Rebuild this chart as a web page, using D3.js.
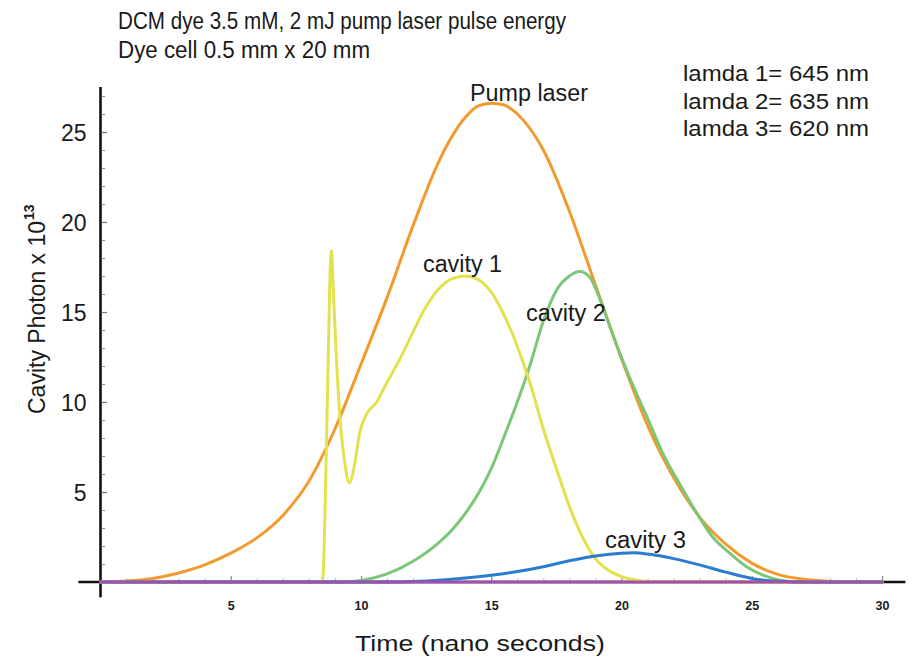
<!DOCTYPE html>
<html>
<head>
<meta charset="utf-8">
<script src="https://cdn.jsdelivr.net/npm/d3@7/dist/d3.min.js"></script>
<style>
  html, body { margin: 0; padding: 0; background: #fff; }
  svg { display: block; }
  text { font-family: "Liberation Sans", Arial, Helvetica, sans-serif; fill: #1a1a1a; }
</style>
</head>
<body>
<svg id="chart" width="913" height="657"></svg>
<script>
// ---- data (time in ns, photons in units of 10^13) ----
const pumpTime   = [0, 1, 2, 3, 4, 5, 6, 7, 8, 9, 10, 11, 12, 13, 14, 14.5, 15, 15.5, 16, 17, 18, 19, 20, 21, 22, 23, 24, 25, 26, 27, 28, 29, 30];
const pumpValues = [0, 0.05, 0.2, 0.5, 0.95, 1.6, 2.45, 3.7, 5.6, 8.5, 12.1, 15.8, 19.8, 23.4, 25.8, 26.45, 26.6, 26.5, 26.0, 24.0, 20.6, 16.5, 12.4, 8.7, 5.8, 3.6, 2.1, 1.05, 0.42, 0.15, 0.04, 0, 0];

const cavity1Time   = [0, 8.5, 8.55, 8.65, 8.75, 8.82, 8.87, 8.93, 9.05, 9.2, 9.38, 9.55, 9.75, 9.95, 10.2, 10.6, 11, 11.5, 12, 12.5, 13, 13.5, 14, 14.5, 15, 15.5, 16, 16.5, 17, 17.5, 18, 18.5, 19, 19.5, 20, 20.5, 21, 22, 30];
const cavity1Values = [0, 0, 0.5, 6, 13, 17.5, 18.4, 16.4, 12.6, 9.0, 6.6, 5.5, 6.5, 8.3, 9.3, 10.0, 11.1, 12.4, 13.9, 15.3, 16.3, 16.85, 17.0, 16.8, 16.1, 14.8, 13.1, 11.0, 8.5, 6.3, 4.2, 2.5, 1.3, 0.65, 0.3, 0.12, 0.02, 0, 0];

const cavity2Time   = [0, 9.3, 10, 11, 12, 13, 13.5, 14, 14.5, 15, 15.5, 16, 16.5, 17, 17.5, 18, 18.4, 18.8, 19.2, 19.7, 20.3, 21, 21.6, 22.25, 22.9, 23.5, 24.2, 24.8, 25.4, 26.1, 26.8, 30];
const cavity2Values = [0, 0, 0.08, 0.45, 1.15, 2.2, 2.9, 3.8, 4.9, 6.3, 8.1, 10.0, 12.1, 14.5, 16.2, 17.0, 17.25, 16.9, 15.6, 13.6, 11.4, 9.1, 7.1, 5.4, 3.8, 2.5, 1.55, 0.85, 0.4, 0.1, 0, 0];

const cavity3Time   = [0, 11, 12, 13, 14, 15, 16, 17, 18, 19, 20, 20.5, 21, 22, 23, 24, 25, 26, 27, 30];
const cavity3Values = [0, 0, 0.03, 0.1, 0.22, 0.38, 0.58, 0.85, 1.18, 1.45, 1.6, 1.62, 1.55, 1.3, 0.95, 0.55, 0.2, 0.04, 0, 0];

const baselineTime   = [0, 30];
const baselineValues = [0, 0];

const xTickValues = [5, 10, 15, 20, 25, 30];
const yTickValues = [5, 10, 15, 20, 25];

const titleLines  = ["DCM dye 3.5 mM, 2 mJ pump laser pulse energy", "Dye cell 0.5 mm x 20 mm"];
const legendLines = ["lamda 1= 645 nm", "lamda 2= 635 nm", "lamda 3= 620 nm"];

// ---- layout ----
const svg = d3.select("#chart");
const x = d3.scaleLinear().domain([0, 30]).range([100.5, 882]);
const y = d3.scaleLinear().domain([0, 25]).range([582, 132]);

const colors = {
  pump: "#f29a2e",
  c1: "#e3e24e",
  c2: "#7cc677",
  c3: "#2a7ccf",
  base: "#a24fae"
};

// ---- axes ----
const axisG = svg.append("g");
// horizontal axis line (extends slightly past both ends)
axisG.append("line")
  .attr("x1", x(-0.85)).attr("x2", x(30.9))
  .attr("y1", y(0)).attr("y2", y(0))
  .attr("stroke", "#111").attr("stroke-width", 2.6);
// vertical axis line
axisG.append("line")
  .attr("x1", x(0)).attr("x2", x(0))
  .attr("y1", y(-0.85)).attr("y2", y(27.5))
  .attr("stroke", "#111").attr("stroke-width", 2.6);

// y tick marks (minor every unit, major every 5)
const yMinor = d3.range(1, 28).filter(v => v % 5 !== 0);
svg.append("g")
  .attr("transform", `translate(${x(0) + 1},0)`)
  .call(d3.axisRight(y).tickValues(yMinor).tickSize(3.5).tickFormat(""))
  .call(g => g.select(".domain").remove())
  .call(g => g.selectAll(".tick line").attr("stroke", "#888").attr("stroke-width", 1));
svg.append("g")
  .attr("transform", `translate(${x(0) + 1},0)`)
  .call(d3.axisRight(y).tickValues(yTickValues).tickSize(5.5).tickFormat(""))
  .call(g => g.select(".domain").remove())
  .call(g => g.selectAll(".tick line").attr("stroke", "#777").attr("stroke-width", 1.2));

// y tick labels
svg.append("g")
  .attr("transform", `translate(${x(0)},0)`)
  .call(d3.axisLeft(y).tickValues(yTickValues).tickSize(0).tickPadding(14).tickFormat(d3.format("d")))
  .call(g => g.select(".domain").remove())
  .call(g => g.selectAll(".tick text")
    .attr("font-family", "'Liberation Sans', Arial, sans-serif")
    .attr("font-size", 23).attr("fill", "#1a1a1a").attr("dy", "0.36em"));

// x tick marks
const xMinor = d3.range(1, 31).filter(v => v % 5 !== 0);
svg.append("g")
  .attr("transform", `translate(0,${y(0) - 1})`)
  .call(d3.axisTop(x).tickValues(xMinor).tickSize(2.5).tickFormat(""))
  .call(g => g.select(".domain").remove())
  .call(g => g.selectAll(".tick line").attr("stroke", "#aaa").attr("stroke-width", 1));
svg.append("g")
  .attr("transform", `translate(0,${y(0) - 1})`)
  .call(d3.axisTop(x).tickValues(xTickValues).tickSize(5).tickFormat(""))
  .call(g => g.select(".domain").remove())
  .call(g => g.selectAll(".tick line").attr("stroke", "#888").attr("stroke-width", 1.2));

// x tick labels (small serif numerals)
svg.append("g")
  .attr("transform", `translate(0,${y(0)})`)
  .call(d3.axisBottom(x).tickValues(xTickValues).tickSize(0).tickPadding(19).tickFormat(d3.format("d")))
  .call(g => g.select(".domain").remove())
  .call(g => g.selectAll(".tick text")
    .attr("font-family", "'Liberation Serif', 'Times New Roman', serif")
    .attr("font-weight", "bold")
    .attr("font-size", 12.5).attr("fill", "#555"));

// ---- curves ----
const line = d3.line()
  .x(d => x(d[0]))
  .y(d => y(d[1]))
  .curve(d3.curveMonotoneX);

const series = [
  { t: pumpTime, v: pumpValues, color: colors.pump },
  { t: cavity2Time, v: cavity2Values, color: colors.c2 },
  { t: cavity1Time, v: cavity1Values, color: colors.c1 },
  { t: cavity3Time, v: cavity3Values, color: colors.c3 },
  { t: baselineTime, v: baselineValues, color: colors.base }
];

svg.append("g").selectAll("path")
  .data(series)
  .join("path")
  .attr("d", s => line(s.t.map((t, i) => [t, s.v[i]])))
  .attr("fill", "none")
  .attr("stroke", s => s.color)
  .attr("stroke-width", 3)
  .attr("stroke-linejoin", "round")
  .attr("stroke-linecap", "round");

// ---- text ----
function label(txt, px, py, size, width, anchor) {
  const t = svg.append("text")
    .attr("x", px).attr("y", py)
    .attr("font-size", size)
    .attr("text-anchor", anchor || "start")
    .text(txt);
  if (width) t.attr("textLength", width).attr("lengthAdjust", "spacingAndGlyphs");
  return t;
}

label(titleLines[0], 118, 29, 23, 448);
label(titleLines[1], 118, 58, 23, 252);

legendLines.forEach((s, i) => label(s, 683, 81 + i * 27.5, 22, 186));

label("Pump laser", 470, 101, 23, 118);
label("cavity 1", 423, 272, 23, 79);
label("cavity 2", 526, 321, 23, 80);
label("cavity 3", 605, 548, 23, 81);

label("Time (nano seconds)", 480, 651, 22, 250, "middle");

// vertical axis title, with the exponent set as a raised bold numeral
const yTitle = svg.append("g").attr("transform", "translate(45,414) rotate(-90)");
yTitle.append("text")
  .attr("x", 0).attr("y", 0)
  .attr("font-size", 23)
  .text("Cavity Photon x 10");
yTitle.append("text")
  .attr("x", 194).attr("y", -11)
  .attr("font-size", 14).attr("font-weight", "bold")
  .text("13");
</script>
</body>
</html>
